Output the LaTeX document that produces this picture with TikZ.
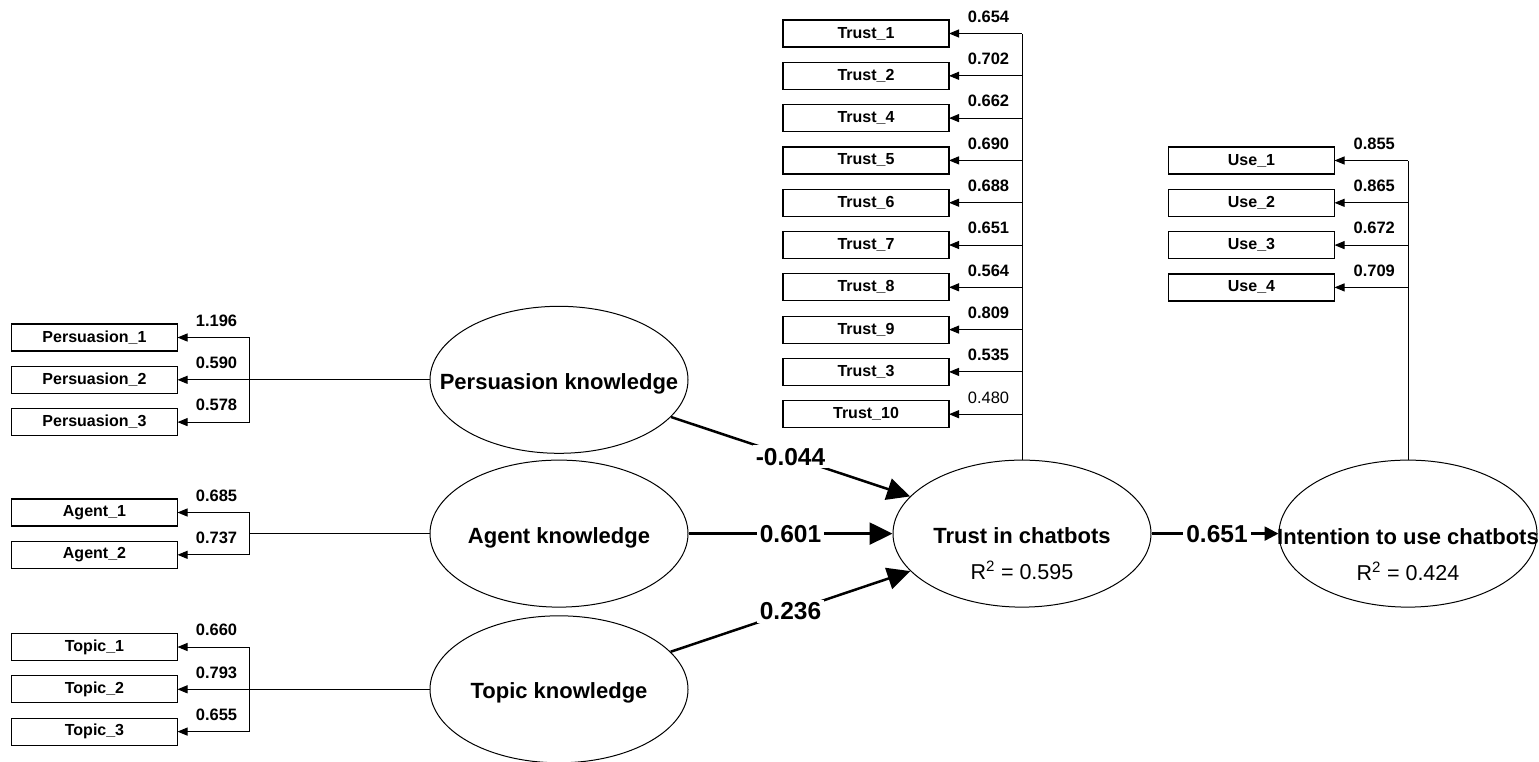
\documentclass[tikz,border=0pt]{standalone}
\usepackage{fontspec}
\setmainfont{Liberation Sans}
\usetikzlibrary{arrows.meta, positioning, shapes.geometric}

\begin{document}
\begin{tikzpicture}[
		x=1pt, y=-1pt,
		indicator/.style={rectangle, draw, line width=1.2pt, outer sep=0pt, inner sep=0pt, minimum width=166pt, minimum height=27pt, font=\bfseries\fontsize{16}{17}\selectfont},
		latent/.style={ellipse, draw, line width=1pt, inner sep=0pt, minimum width=258pt, minimum height=147pt},
		lvname/.style={font=\bfseries\fontsize{22}{24}\selectfont},
		rsq/.style={font=\fontsize{21.5}{24}\selectfont},
		node distance=15.3pt,
		link/.style={line width=1pt},
		loading/.style={-{Triangle[length=10pt, width=8pt]}, line width=1pt},
		coef/.style={above=9.5pt, xshift=3pt, inner sep=1pt, font=\bfseries\fontsize{16.5}{18}\selectfont},
		structural/.style={-{Triangle[length=23pt, width=22pt]}, line width=2.5pt},
		effect/.style={-{Triangle[length=14pt, width=14pt]}, line width=2.5pt},
		beta/.style={fill=white, inner sep=3pt, font=\bfseries\fontsize{24.5}{27}\selectfont}
		]
		\useasboundingbox (0,0) rectangle (1539,761);

		% latent variables
		\node [latent, label={[lvname, yshift=-4pt]center:Persuasion knowledge}] (pk) at (559,379.8) {};
		\node [latent, label={[lvname, yshift=-4pt]center:Agent knowledge}] (ak) at (559,533.6) {};
		\node [latent, label={[lvname, yshift=-4pt]center:Topic knowledge}] (tk) at (559,689.3) {};
		\node [latent, label={[lvname, yshift=-2.5pt]center:Trust in chatbots}, label={[rsq, yshift=-37pt]center:R\textsuperscript{2} = 0.595}] (tc) at (1022,533.6) {};
		\node [latent, label={[lvname, yshift=-3.5pt]center:Intention to use chatbots}, label={[rsq, yshift=-38pt]center:R\textsuperscript{2} = 0.424}] (iu) at (1408,533.6) {};

		% indicators
		\node [indicator] (pers1) at (94.5,337.5) {Persuasion\_1};
		\node [indicator] (pers2) [below=of pers1] {Persuasion\_2};
		\node [indicator] (pers3) [below=of pers2] {Persuasion\_3};

		\node [indicator] (agent1) at (94.5,512.5) {Agent\_1};
		\node [indicator] (agent2) [below=of agent1] {Agent\_2};

		\node [indicator] (topic1) at (94.5,647) {Topic\_1};
		\node [indicator] (topic2) [below=of topic1] {Topic\_2};
		\node [indicator] (topic3) [below=of topic2] {Topic\_3};

		\node [indicator] (trust1) at (866,33.5) {Trust\_1};
		\node [indicator] (trust2) [below=of trust1] {Trust\_2};
		\node [indicator] (trust4) [below=of trust2] {Trust\_4};
		\node [indicator] (trust5) [below=of trust4] {Trust\_5};
		\node [indicator] (trust6) [below=of trust5] {Trust\_6};
		\node [indicator] (trust7) [below=of trust6] {Trust\_7};
		\node [indicator] (trust8) [below=of trust7] {Trust\_8};
		\node [indicator] (trust9) [below=of trust8] {Trust\_9};
		\node [indicator] (trust3) [below=of trust9] {Trust\_3};
		\node [indicator] (trust10) [below=of trust3] {Trust\_10};

		\node [indicator] (use1) at (1251.5,160.5) {Use\_1};
		\node [indicator] (use2) [below=of use1] {Use\_2};
		\node [indicator] (use3) [below=of use2] {Use\_3};
		\node [indicator] (use4) [below=of use3] {Use\_4};

		% junctions
		\coordinate (pkj) at ([xshift=72pt]pers2.east);
		\coordinate (akj) at (ak.west -| pkj);
		\coordinate (tkj) at (tk.west -| pkj);

		% persuasion knowledge
		\draw [link] (pk.west) -- (pkj);
		\draw [link] (pkj |- pers1.east) -- (pkj |- pers3.east);
		\draw [loading] (pers1.east -| pkj) -- node [coef] {1.196} (pers1);
		\draw [loading] (pers2.east -| pkj) -- node [coef] {0.590} (pers2);
		\draw [loading] (pers3.east -| pkj) -- node [coef] {0.578} (pers3);

		% agent knowledge
		\draw [link] (ak.west) -- (akj);
		\draw [link] (akj |- agent1.east) -- (akj |- agent2.east);
		\draw [loading] (agent1.east -| akj) -- node [coef] {0.685} (agent1);
		\draw [loading] (agent2.east -| akj) -- node [coef] {0.737} (agent2);

		% topic knowledge
		\draw [link] (tk.west) -- (tkj);
		\draw [link] (tkj |- topic1.east) -- (tkj |- topic3.east);
		\draw [loading] (topic1.east -| tkj) -- node [coef] {0.660} (topic1);
		\draw [loading] (topic2.east -| tkj) -- node [coef] {0.793} (topic2);
		\draw [loading] (topic3.east -| tkj) -- node [coef] {0.655} (topic3);

		% trust in chatbots
		\draw [link] (tc.north) -- (tc.north |- trust1.east);
		\draw [loading] (trust1.east -| tc.north) -- node [coef] {0.654} (trust1);
		\draw [loading] (trust2.east -| tc.north) -- node [coef] {0.702} (trust2);
		\draw [loading] (trust4.east -| tc.north) -- node [coef] {0.662} (trust4);
		\draw [loading] (trust5.east -| tc.north) -- node [coef] {0.690} (trust5);
		\draw [loading] (trust6.east -| tc.north) -- node [coef] {0.688} (trust6);
		\draw [loading] (trust7.east -| tc.north) -- node [coef] {0.651} (trust7);
		\draw [loading] (trust8.east -| tc.north) -- node [coef] {0.564} (trust8);
		\draw [loading] (trust9.east -| tc.north) -- node [coef] {0.809} (trust9);
		\draw [loading] (trust3.east -| tc.north) -- node [coef] {0.535} (trust3);
		\draw [loading] (trust10.east -| tc.north) -- node [coef, font=\fontsize{16.5}{18}\selectfont] {0.480} (trust10);

		% intention to use chatbots
		\draw [link] (iu.north) -- (iu.north |- use1.east);
		\draw [loading] (use1.east -| iu.north) -- node [coef] {0.855} (use1);
		\draw [loading] (use2.east -| iu.north) -- node [coef] {0.865} (use2);
		\draw [loading] (use3.east -| iu.north) -- node [coef] {0.672} (use3);
		\draw [loading] (use4.east -| iu.north) -- node [coef] {0.709} (use4);

		% structural paths
		\draw [structural] (pk) -- node [beta] {-0.044} (tc);
		\draw [structural] (ak) -- node [beta] {0.601} (tc);
		\draw [structural] (tk) -- node [beta] {0.236} (tc);
		\draw [effect] (tc) -- node [beta, xshift=2pt] {0.651} (iu);
	\end{tikzpicture}
\end{document}
